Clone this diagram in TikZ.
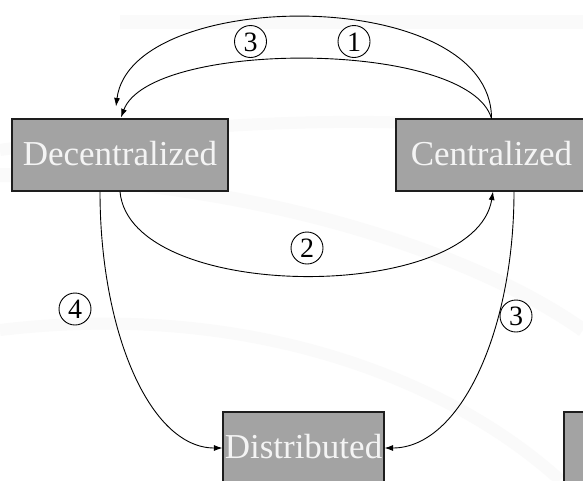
\documentclass[tikz,border=0pt]{standalone}
\usepackage{fontspec}
\setmainfont{Liberation Serif}
\usetikzlibrary{arrows.meta}
\definecolor{boxfill}{HTML}{A3A3A3}
\definecolor{boxline}{HTML}{1E1E1E}
\definecolor{boxtext}{HTML}{F4F4F4}
\definecolor{swoosh}{HTML}{FAFAFA}
\tikzset{
  statebox/.style={rectangle, draw=boxline, line width=1.1pt, fill=boxfill,
    text=boxtext, font=\fontsize{35}{40}\selectfont, inner sep=0pt,
    minimum height=72pt, text height=22pt, text depth=2pt},
  conn/.style={line width=0.9pt, draw=black, -{Latex[length=8.5pt,width=6pt]}},
  lab/.style={circle, draw=black, line width=0.9pt, minimum size=32pt, inner sep=0pt,
    font=\fontsize{28}{30}\selectfont, text height=19pt, text depth=0pt, text=black},
}
\begin{document}
\begin{tikzpicture}[x=1pt,y=-1pt]
\useasboundingbox (0,0) rectangle (583,480);
\clip (0,0) rectangle (583,480);
\fill[white] (0,0) rectangle (583,480);
% faint background swooshes
\draw[swoosh, line width=14pt] (120,22) -- (583,22);
\draw[swoosh, line width=12pt] (0,150) .. controls (200,120) and (420,110) .. (583,140);
\draw[swoosh, line width=14pt] (0,175) .. controls (250,180) and (470,250) .. (583,330);
\draw[swoosh, line width=12pt] (0,330) .. controls (250,300) and (450,380) .. (560,480);
% nodes
\node[statebox, minimum width=216pt] (dec) at (120,155) {Decentralized};
\node[statebox, minimum width=191pt] (cen) at (491.5,155) {Centralized};
\node[statebox, minimum width=161pt] (dist) at (303.5,448) {Distributed};
\node[statebox, minimum width=40pt] (extra) at (584,448) {};
% connectors
\draw[conn] (cen.north) .. controls +(0,-134) and +(15,-120) .. ([shift={(-4,-12)}]dec.north);
\draw[conn] (cen.north) .. controls +(-23,-79) and +(29,-78) .. ([shift={(1,-1)}]dec.north);
\draw[conn] (dec.south) .. controls +(10,112) and +(-18,112) .. ([xshift=1.5pt]cen.south);
\draw[conn] ([xshift=-20pt]dec.south) .. controls +(0,139) and +(-73,0) .. (dist.west);
\draw[conn] ([xshift=22.5pt]cen.south) .. controls +(0,139) and +(76,0) .. (dist.east);
% labels
\node[lab] (l3a) at (250.5,41.5) {3};
\node[lab] (l1) at (354,41.5) {1};
\node[lab] (l2) at (307,248) {2};
\node[lab] (l4) at (75,309) {4};
\node[lab] (l3b) at (516,316) {3};
\end{tikzpicture}
\end{document}
